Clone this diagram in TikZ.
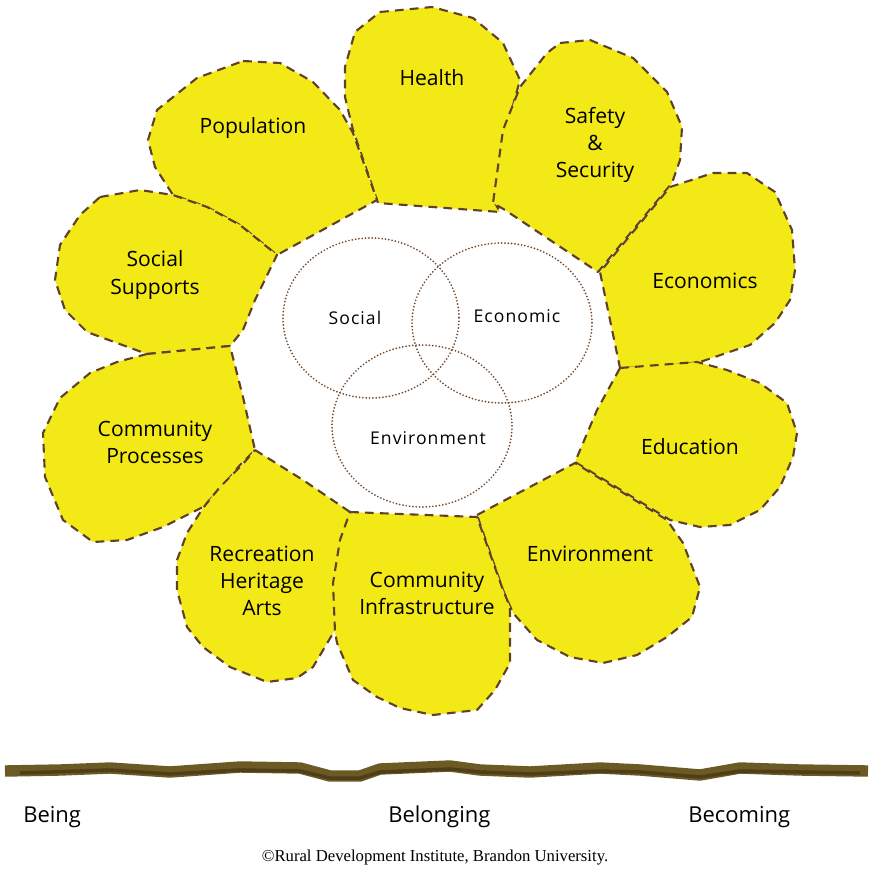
\documentclass[tikz,border=0pt]{standalone}
\usepackage{fontspec}
\setmainfont{Open Sans}
\newfontfamily\creditfont{Liberation Serif}
\definecolor{petalfill}{RGB}{242,233,22}
\definecolor{petaledge}{RGB}{95,65,40}
\definecolor{vennedge}{RGB}{115,75,45}
\definecolor{barcolor}{RGB}{108,90,36}
\definecolor{bardark}{RGB}{80,62,25}

\begin{document}
\begin{tikzpicture}[x=0.02cm,y=-0.02cm,
    petal/.style={fill=petalfill, draw=petaledge, line width=1.2pt,
      dash pattern=on 5pt off 3.5pt, line join=round},
    petallabel/.style={font=\fontsize{12}{15.5}\selectfont, align=center, inner sep=0pt},
    venn/.style={draw=vennedge, line width=1.1pt, dash pattern=on 0pt off 1.9pt, line cap=round},
    vennlabel/.style={font=\fontsize{10}{12}\selectfont\addfontfeature{LetterSpace=6}, inner sep=0pt},
    stage/.style={font=\fontsize{12.5}{15}\selectfont, anchor=base west, inner sep=0pt}]
  \useasboundingbox (0,0) rectangle (870,874);

  \draw[petal] (380,12) -- (432,7) -- (473,18) -- (503,43) -- (520,80) -- (507,127)
    -- (495,203) -- (500,212) -- (378,203) -- (353,130) -- (345,97) -- (345,67) -- (355,32) -- cycle;
  \draw[petal] (243,61) -- (280,63) -- (313,82) -- (340,110) -- (353,133) -- (377,200)
    -- (277,255) -- (240,225) -- (207,207) -- (173,195) -- (155,167) -- (148,140) -- (157,110)
    -- (197,78) -- cycle;
  \draw[petal] (560,43) -- (590,40) -- (633,58) -- (667,92) -- (682,127) -- (680,160)
    -- (672,183) -- (598,272) -- (505,210) -- (493,203) -- (503,130) -- (520,87) -- (547,53) -- cycle;
  \draw[petal] (100,197) -- (140,190) -- (173,195) -- (207,207) -- (240,225) -- (277,255)
    -- (255,300) -- (243,330) -- (230,346) -- (147,354) -- (87,332) -- (65,310) -- (55,280)
    -- (60,245) -- (80,215) -- cycle;
  \draw[petal] (670,187) -- (713,173) -- (747,173) -- (775,192) -- (792,230) -- (795,270)
    -- (790,300) -- (775,323) -- (750,345) -- (700,362) -- (657,367) -- (620,368) -- (610,320)
    -- (600,272) -- cycle;
  \draw[petal] (147,354) -- (230,346) -- (243,397) -- (255,450) -- (240,465) -- (222,487)
    -- (203,507) -- (163,527) -- (127,540) -- (93,542) -- (63,520) -- (45,477) -- (43,433)
    -- (60,398) -- (90,373) -- (117,362) -- cycle;
  \draw[petal] (620,368) -- (697,362) -- (727,370) -- (760,383) -- (787,403) -- (797,433)
    -- (793,457) -- (780,487) -- (760,510) -- (730,525) -- (700,527) -- (670,520) -- (575,462)
    -- (597,410) -- cycle;
  \draw[petal] (255,450) -- (303,480) -- (350,512) -- (340,560) -- (335,630) -- (313,667)
    -- (297,678) -- (267,682) -- (230,667) -- (203,647) -- (187,627) -- (177,590) -- (177,560)
    -- (187,533) -- (203,508) -- (220,487) -- (242,465) -- cycle;
  \draw[petal] (477,515) -- (575,463) -- (667,520) -- (683,543) -- (700,587) -- (692,617)
    -- (667,637) -- (637,655) -- (603,663) -- (570,657) -- (537,640) -- (513,613) -- (503,590) -- cycle;
  \draw[petal] (350,512) -- (477,517) -- (503,590) -- (510,607) -- (510,663) -- (495,690)
    -- (477,710) -- (433,715) -- (400,708) -- (377,697) -- (353,680) -- (337,643) -- (335,632)
    -- (333,583) -- (340,540) -- cycle;

  \node[petallabel] (health) at (432,78) {Health};
  \node[petallabel] (population) at (253,128) {Population};
  \node[petallabel] (safety) at (595,145) {Safety\\\&\\Security};
  \node[petallabel] (socsup) at (155,275) {Social\\Supports};
  \node[petallabel] (economics) at (705,281) {Economics};
  \node[petallabel] (comproc) at (155,442) {Community\\Processes};
  \node[petallabel] (education) at (690,447) {Education};
  \node[petallabel] (recreation) at (262,581) {Recreation\\Heritage\\Arts};
  \node[petallabel] (cominfra) at (427,593) {Community\\Infrastructure};
  \node[petallabel] (environment) at (590,554) {Environment};

  \draw[venn] (371,318) ellipse [x radius=88, y radius=80];
  \draw[venn] (502,323) ellipse [x radius=90, y radius=80];
  \draw[venn] (422,426) ellipse [x radius=90, y radius=81];
  \node[vennlabel] (social) at (355,318) {Social};
  \node[vennlabel] (economic) at (517,316) {Economic};
  \node[vennlabel] (environ) at (428,438) {Environment};

  \draw[barcolor, line width=6.5pt, line join=round] plot coordinates {(5,771) (60,770) (110,768)
    (170,772) (240,767) (300,768) (330,776) (360,776) (380,769) (450,766) (480,770) (530,772)
    (600,768) (640,770) (700,775) (740,768) (800,770) (868,771)};
  \draw[bardark, line width=2pt, line join=round] plot coordinates {(20,773) (110,770)
    (170,774) (240,770) (300,771) (330,778) (360,778) (380,772) (450,769) (480,772) (530,774)
    (600,771) (640,772) (700,777) (740,771) (800,772) (860,773)};

  \node[stage] (being) at (23,822) {Being};
  \node[stage] (belonging) at (388,822) {Belonging};
  \node[stage] (becoming) at (688,822) {Becoming};
  \node[font=\creditfont\fontsize{9.5}{11}\selectfont, inner sep=0pt] (credit) at (435,857)
    {©Rural Development Institute, Brandon University.};
\end{tikzpicture}
\end{document}
